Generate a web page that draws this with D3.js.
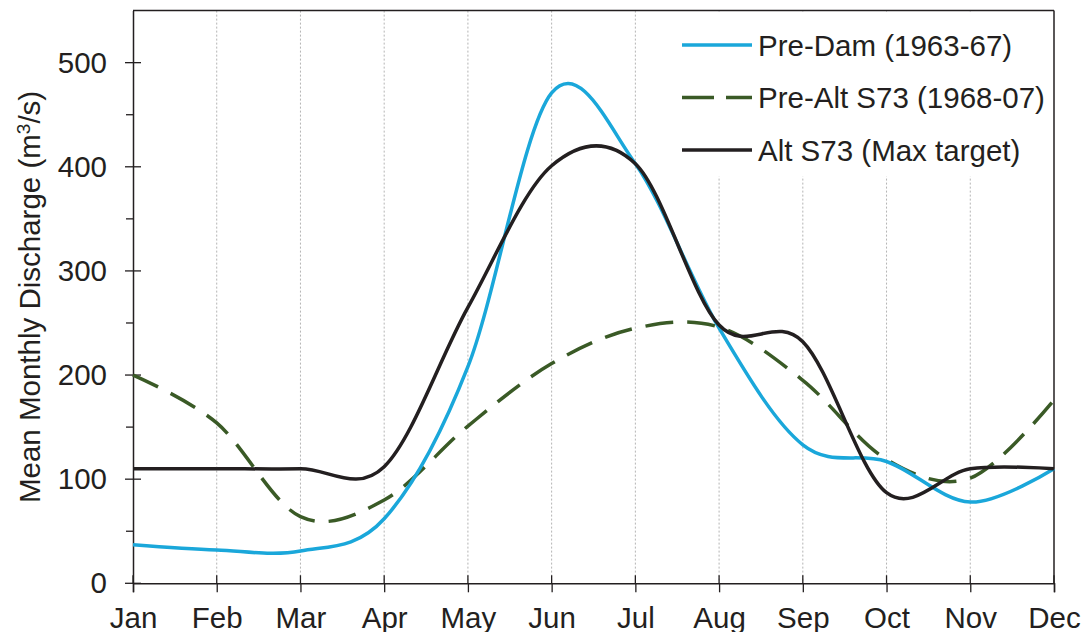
<!DOCTYPE html>
<meta charset="utf-8">
<script src="https://d3js.org/d3.v7.min.js"></script>
<style>
  body { margin: 0; background: #fff; }
  text { font-family: "Liberation Sans", Arial, sans-serif; fill: #231f20; }
</style>
<div id="chart"></div>
<script>

// monthly data
var months = ["Jan", "Feb", "Mar", "Apr", "May", "Jun", "Jul", "Aug", "Sep", "Oct", "Nov", "Dec"];
var preDam = [37, 32, 31, 62, 208, 471, 403, 245, 133, 117, 78, 110];
var preAlt = [200, 154, 64, 80, 151, 211, 245, 246, 195, 119, 101, 176];
var altS73 = [110, 110, 110, 112, 265, 401, 403, 248, 232, 87, 110, 110];
var yTicks = [0, 100, 200, 300, 400, 500];
var yMinor = [50, 150, 250, 350, 450];

var series = [
  {name: "Pre-Dam (1963-67)", values: preDam, color: "#1aa7da", dash: null},
  {name: "Pre-Alt S73 (1968-07)", values: preAlt, color: "#3a5a26", dash: "28,14"},
  {name: "Alt S73 (Max target)", values: altS73, color: "#231f20", dash: null}
];

var W = 1081, H = 632;
var pLeft = 133, pRight = 1054, pTop = 10.6, pBottom = 583.3;
var fontSize = "29.5px";

var svg = d3.select("#chart").append("svg")
  .attr("width", W)
  .attr("height", H);

var x = d3.scalePoint()
  .domain(months)
  .range([pLeft, pRight]);

var y = d3.scaleLinear()
  .domain([0, 550])
  .range([pBottom, pTop]);

// vertical dotted gridlines
svg.append("g")
  .selectAll("line")
  .data(months.slice(1, 11))
  .enter()
  .append("line")
    .attr("x1", function(d) { return x(d); })
    .attr("x2", function(d) { return x(d); })
    .attr("y1", pTop)
    .attr("y2", pBottom)
    .attr("stroke", "#b4b4b4")
    .attr("stroke-width", 1)
    .attr("stroke-dasharray", "2,2");

// legend background hides gridlines behind it
svg.append("rect")
  .attr("x", 668)
  .attr("y", pTop + 1)
  .attr("width", 382)
  .attr("height", 165)
  .attr("fill", "#fff");

// frame: top and right
svg.append("line")
  .attr("x1", pLeft).attr("x2", pRight)
  .attr("y1", pTop).attr("y2", pTop)
  .attr("stroke", "#231f20").attr("stroke-width", 1.5);
svg.append("line")
  .attr("x1", pRight).attr("x2", pRight)
  .attr("y1", pTop).attr("y2", pBottom)
  .attr("stroke", "#231f20").attr("stroke-width", 1.5);

// Y axis
var yAxis = svg.append("g")
  .attr("transform", "translate(" + pLeft + ",0)")
  .call(d3.axisLeft(y).tickValues(yTicks).tickSize(0).tickPadding(26).tickFormat(d3.format("d")));
yAxis.select(".domain").attr("stroke", "#231f20").attr("stroke-width", 1.5);
yAxis.selectAll("text").style("font-size", fontSize).attr("fill", "#231f20")
  .attr("font-family", "Liberation Sans, Arial, sans-serif");

svg.append("g").selectAll("line")
  .data(yTicks)
  .enter().append("line")
    .attr("x1", pLeft - 8).attr("x2", pLeft + 8)
    .attr("y1", function(d) { return y(d); })
    .attr("y2", function(d) { return y(d); })
    .attr("stroke", "#231f20").attr("stroke-width", 1.3);
svg.append("g").selectAll("line")
  .data(yMinor)
  .enter().append("line")
    .attr("x1", pLeft - 7).attr("x2", pLeft)
    .attr("y1", function(d) { return y(d); })
    .attr("y2", function(d) { return y(d); })
    .attr("stroke", "#231f20").attr("stroke-width", 1.3);

// X axis
var xAxis = svg.append("g")
  .attr("transform", "translate(0," + pBottom + ")")
  .call(d3.axisBottom(x).tickSize(9).tickPadding(15));
xAxis.select(".domain").attr("stroke", "#231f20").attr("stroke-width", 1.5);
xAxis.selectAll(".tick line").attr("stroke", "#231f20").attr("stroke-width", 1.3);
xAxis.selectAll("text").style("font-size", fontSize).attr("fill", "#231f20")
  .attr("font-family", "Liberation Sans, Arial, sans-serif");

svg.append("g").selectAll("line")
  .data(months)
  .enter().append("line")
    .attr("x1", function(d) { return x(d); })
    .attr("x2", function(d) { return x(d); })
    .attr("y1", pBottom - 8).attr("y2", pBottom)
    .attr("stroke", "#231f20").attr("stroke-width", 1.3);

// Y axis title
var title = svg.append("text")
  .attr("transform", "translate(40," + ((pTop + pBottom) / 2) + ") rotate(-90)")
  .attr("text-anchor", "middle")
  .style("font-size", fontSize);
title.append("tspan").text("Mean Monthly Discharge (m");
title.append("tspan").attr("dy", -10).style("font-size", "19px").text("3");
title.append("tspan").attr("dy", 10).text("/s)");

// lines
var line = d3.line()
  .x(function(d, i) { return x(months[i]); })
  .y(function(d) { return y(d); })
  .curve(d3.curveCardinal.tension(0));

var plot = svg.append("g");
[1, 0, 2].forEach(function(k) {
  var s = series[k];
  plot.append("path")
    .datum(s.values)
    .attr("d", line)
    .attr("fill", "none")
    .attr("stroke", s.color)
    .attr("stroke-width", 3.5)
    .attr("stroke-dasharray", s.dash);
});

// legend
var legend = svg.append("g");
series.forEach(function(s, i) {
  var ly = 45 + i * 52.5;
  legend.append("line")
    .attr("x1", 682).attr("x2", 752)
    .attr("y1", ly).attr("y2", ly)
    .attr("stroke", s.color)
    .attr("stroke-width", 3.5)
    .attr("stroke-dasharray", s.dash ? "32,12" : null);
  legend.append("text")
    .attr("x", 758)
    .attr("y", ly + 10.5)
    .style("font-size", fontSize)
    .text(s.name);
});

</script>
